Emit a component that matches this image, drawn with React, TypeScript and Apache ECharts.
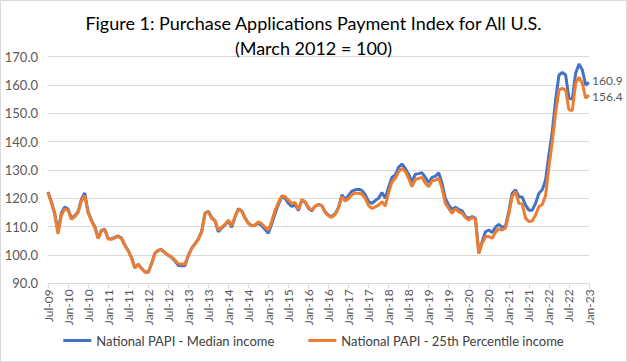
import React, { useEffect, useRef } from "react";
import * as echarts from "echarts";

const MONTHS = ["Jan", "Feb", "Mar", "Apr", "May", "Jun", "Jul", "Aug", "Sep", "Oct", "Nov", "Dec"];
// Jul-2009 .. Jan-2023 monthly
const categories: string[] = [];
for (let y = 2009, m = 6; y < 2023 || (y === 2023 && m === 0); ) {
  categories.push(`${MONTHS[m]}-${String(y % 100).padStart(2, "0")}`);
  m++;
  if (m === 12) { m = 0; y++; }
}

const medianIncome = [
  122.2, 118.7, 114.8, 108.0, 114.8, 116.9, 116.2, 113.0, 113.8, 115.3, 119.6, 121.9,
  115.2, 112.3, 110.1, 106.0, 108.7, 109.1, 105.8, 105.7, 106.2, 106.7, 106.0, 103.5,
  101.6, 99.1, 95.5, 96.7, 95.3, 94.1, 93.9, 96.9, 100.6, 101.7, 101.9, 100.8,
  99.9, 99.1, 97.9, 96.3, 96.2, 96.2, 99.7, 102.3, 103.9, 105.6, 108.2, 114.7,
  115.4, 113.2, 112.0, 108.2, 109.5, 110.6, 112.0, 109.8, 113.4, 116.3, 115.6, 113.1,
  111.2, 110.3, 110.5, 111.3, 110.3, 109.0, 107.7, 111.0, 114.6, 117.8, 120.5, 120.0,
  118.2, 117.1, 117.7, 115.7, 119.4, 118.6, 116.5, 115.6, 117.2, 117.8, 117.4, 115.2,
  114.0, 113.5, 114.6, 116.8, 121.2, 119.6, 121.0, 122.5, 123.0, 123.2, 122.8, 121.3,
  118.8, 118.2, 119.2, 120.0, 122.0, 120.0, 124.0, 127.4, 128.2, 131.0, 132.1, 130.5,
  128.4, 125.8, 128.5, 128.7, 129.0, 127.4, 125.5, 127.4, 127.8, 129.0, 125.2, 120.0,
  117.6, 116.1, 116.8, 116.1, 115.6, 113.6, 112.9, 113.5, 112.9, 100.8, 104.7, 108.2,
  108.8, 107.9, 109.8, 110.8, 109.8, 110.2, 115.5, 121.8, 123.0, 120.6, 120.4, 117.6,
  115.8, 115.8, 118.2, 121.8, 123.0, 126.5, 135.5, 143.5, 154.7, 163.5, 164.4, 163.5,
  155.3, 155.0, 164.1, 167.4, 165.3, 160.0, 160.9,
];

const p25Income = [
  122.0, 118.5, 114.5, 107.5, 114.0, 116.2, 115.8, 112.6, 113.5, 115.0, 119.0, 121.0,
  114.8, 112.0, 109.8, 105.8, 108.5, 108.9, 105.6, 105.5, 106.0, 106.5, 105.8, 103.4,
  101.5, 99.0, 95.4, 96.6, 95.2, 94.0, 93.8, 96.8, 100.5, 101.6, 101.8, 100.8,
  100.0, 99.3, 98.2, 96.9, 96.8, 96.8, 99.8, 102.2, 103.8, 105.5, 108.0, 114.5,
  115.3, 112.9, 112.3, 108.8, 109.8, 110.8, 112.3, 110.3, 113.5, 116.1, 115.4, 113.0,
  111.2, 110.3, 110.6, 111.7, 111.0, 109.8, 108.8, 112.0, 115.8, 118.5, 120.8, 120.6,
  119.4, 118.2, 118.5, 116.0, 119.6, 118.8, 116.8, 115.8, 117.3, 117.8, 117.3, 115.0,
  113.8, 113.3, 114.3, 116.5, 120.6, 119.0, 119.8, 121.3, 121.8, 121.8, 121.5, 120.0,
  117.4, 116.4, 117.0, 117.6, 118.8, 117.2, 122.0, 125.8, 127.0, 129.4, 130.5, 129.4,
  127.0, 124.1, 126.7, 127.0, 127.4, 125.3, 124.1, 126.2, 126.4, 127.0, 123.5, 118.2,
  116.4, 114.7, 116.4, 115.2, 114.7, 113.2, 112.3, 113.3, 112.5, 100.5, 104.1, 106.5,
  106.5, 105.9, 108.0, 109.2, 108.8, 109.5, 114.5, 120.6, 122.4, 118.2, 118.0, 113.0,
  111.8, 112.0, 114.1, 117.1, 117.8, 121.0, 131.0, 140.0, 150.0, 158.2, 158.8, 158.2,
  151.2, 151.0, 160.6, 162.7, 160.6, 155.3, 156.4,
];

const yTicks = { min: 90, max: 170, interval: 10 };
const seriesNames = ["National PAPI - Median income", "National PAPI - 25th Percentile income"];
const titleLines = ["Figure 1: Purchase Applications Payment Index for All U.S.", "(March 2012 = 100)"];

export default function App() {
  const ref = useRef<HTMLDivElement>(null);
  useEffect(() => {
    if (!ref.current) return;
    const chart = echarts.init(ref.current, null, { renderer: "svg" });
    const font = "Lato, 'Open Sans', sans-serif";
    const mkSeries = (name: string, data: number[], color: string, dy: number) => ({
      name,
      type: "line",
      data,
      symbol: "none",
      lineStyle: { color, width: 3 },
      itemStyle: { color },
      endLabel: {
        show: true,
        formatter: (p: any) => Number(p.value).toFixed(1),
        color: "#595959",
        fontSize: 12,
        lineHeight: 12,
        fontFamily: font,
        distance: 3,
        offset: [0, dy],
      },
    });
    chart.setOption({
      animation: false,
      backgroundColor: "#ffffff",
      textStyle: { fontFamily: font },
      title: {
        text: titleLines.join("\n"),
        left: "center",
        top: 5,
        textStyle: { fontSize: 18, fontWeight: "normal", color: "#000000", lineHeight: 25, fontFamily: font },
      },
      grid: { left: 48, right: 38, top: 56.6, bottom: 78.7 },
      legend: {
        bottom: 10,
        left: "center",
        icon: "rect",
        itemWidth: 28,
        itemHeight: 3,
        itemGap: 34,
        textStyle: { fontSize: 13, color: "#404040", fontFamily: font },
        data: seriesNames,
      },
      xAxis: {
        type: "category",
        data: categories,
        boundaryGap: false,
        axisLine: { lineStyle: { color: "#D9D9D9", width: 1 } },
        axisTick: { show: true, interval: 5, length: 5, lineStyle: { color: "#D9D9D9" } },
        axisLabel: { interval: 5, rotate: 90, fontSize: 12, color: "#595959", margin: 6, fontFamily: font },
      },
      yAxis: {
        type: "value",
        min: yTicks.min,
        max: yTicks.max,
        interval: yTicks.interval,
        axisLine: { show: false },
        axisTick: { show: false },
        splitLine: { lineStyle: { color: "#D9D9D9", width: 1 } },
        axisLabel: { formatter: (v: number) => v.toFixed(1), fontSize: 13, color: "#595959", margin: 10, fontFamily: font },
      },
      graphic: [
        {
          type: "rect",
          shape: { x: 0.5, y: 0.5, width: 626, height: 361 },
          style: { fill: "none", stroke: "#D9D9D9", lineWidth: 1 },
          silent: true,
        },
      ],
      series: [
        mkSeries(seriesNames[0], medianIncome, "#4472C4", -2),
        mkSeries(seriesNames[1], p25Income, "#ED7D31", 1),
      ],
    });
    return () => chart.dispose();
  }, []);
  return (
    <div
      ref={ref}
      style={{ position: "absolute", left: 0, top: 0, width: 627, height: 362 }}
    />
  );
}
